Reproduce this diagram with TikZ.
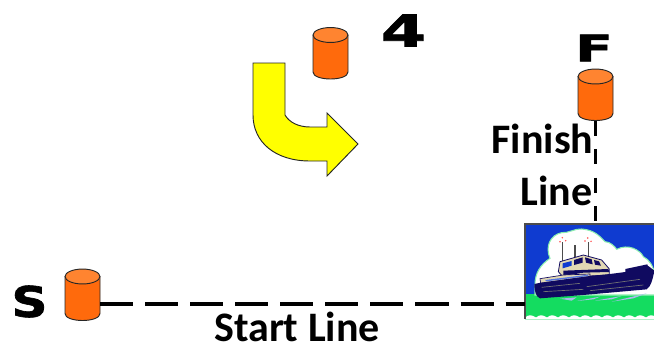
\documentclass[tikz,border=0pt]{standalone}
\usepackage{fontspec}
\setmainfont{Carlito}
\newfontfamily\heavyfont[BoldFont={DejaVu Sans Bold},BoldFeatures={FakeBold=1.5}]{DejaVu Sans}
\definecolor{buoy}{HTML}{FF6A0C}
\definecolor{buoytop}{HTML}{FF8430}
\definecolor{sky}{HTML}{0F3BD0}
\definecolor{sea}{HTML}{14DC60}
\definecolor{hull}{HTML}{100A60}
\definecolor{cabin}{HTML}{E2D8B4}
\definecolor{arrowyellow}{HTML}{FFFF00}
\newcommand{\drawbuoy}[3]{%
 \node[buoybox] (#1) at (#2,#3) {};
 \begin{scope}[shift={(#2,#3)}]
  \filldraw[buoyline,fill=buoy] (-17.5,-18) -- (-17.5,19) .. controls (-17.5,23.5) and (-9,26) .. (0,26)
     .. controls (9,26) and (17.5,23.5) .. (17.5,19) -- (17.5,-18) -- cycle;
  \filldraw[buoyline,fill=buoytop] (0,-18) ellipse [x radius=13.1pt,y radius=5.6pt];
 \end{scope}}
\tikzset{
 x=0.75pt,y=-0.75pt,
 buoyline/.style={draw=black!85,line width=0.7pt},
 buoybox/.style={draw=none,minimum width=26.2pt,minimum height=38.5pt,inner sep=0pt,outer sep=0pt},
 heavy/.style={font=\heavyfont\bfseries,inner sep=0pt,text=black},
 caption/.style={font=\fontsize{31.5pt}{31.5pt}\selectfont\bfseries,inner sep=0pt,text=black,anchor=base},
 dashh/.style={line width=3pt,dash pattern=on 24.8pt off 9pt},
 dashv/.style={line width=2.4pt,dash pattern=on 11.4pt off 9.8pt},
 turnarrow/.style={draw=black!85,line width=0.7pt,fill=arrowyellow},
 boatframe/.style={draw=none,fill=sky,minimum width=96.75pt,minimum height=71.25pt,inner sep=0pt,outer sep=0pt},
}
\begin{document}
\begin{tikzpicture}
\useasboundingbox (0,0) rectangle (654,347);
% boat picture
\node[boatframe] (boat) at (589.5,271.5) {};
\begin{scope}
 \clip (525,224) rectangle (654,319.5);
 \fill[sea] (525,294) rectangle (654,319.5);
 \fill[white] (525,319.5) -- (525,317.5) \foreach \k in {0,...,11} { .. controls (529+\k*11,314.5) and (531+\k*11,314.5) .. (536+\k*11,317.5)} -- (654,319.5) -- cycle;
 \begin{scope}[shift={(500,200)},x=0.25pt,y=-0.25pt]
  \filldraw[fill=white,draw=sea!50!white,line width=0.8pt] (105,255) .. controls (105,220) and (120,195) .. (150,175)
    .. controls (135,140) and (150,105) .. (185,98) .. controls (205,100) and (225,85) .. (245,87)
    .. controls (285,90) and (300,110) .. (315,125) .. controls (330,125) and (345,140) .. (350,148)
    .. controls (385,130) and (420,150) .. (430,170) .. controls (450,180) and (460,200) .. (465,225)
    -- (465,285) -- (105,285) -- cycle;
  % funnels
  \draw[black!70,line width=0.8pt] (188,190) -- (188,125) (225,170) -- (225,135) (265,172) -- (265,125);
  \fill[red!70] (180,125) circle (2.5) (187,113) circle (2.5) (197,122) circle (2.5) (255,123) circle (2.5) (263,114) circle (2.5) (273,124) circle (2.5);
  % cabin
  \filldraw[fill=cabin,draw=hull,line width=0.6pt] (180,185) -- (250,165) -- (305,180) -- (328,207) -- (328,225) -- (190,232) -- (175,215) -- cycle;
  \fill[sky] (188,190) -- (215,183) -- (215,197) -- (188,205) -- cycle;
  \fill[hull] (222,180) -- (248,172) -- (248,188) -- (222,195) -- cycle;
  \fill[hull] (255,172) -- (275,178) -- (278,193) -- (258,188) -- cycle;
  \fill[hull] (282,180) -- (297,184) -- (303,197) -- (285,194) -- cycle;
  \fill[hull] (190,212) -- (325,207) -- (328,216) -- (250,218) -- (190,228) -- cycle;
  % deck
  \filldraw[fill=cabin,draw=hull,line width=0.5pt] (120,236) -- (190,225) -- (270,222) -- (270,230) -- (122,250) -- cycle;
  \fill[sky!70!white] (135,240) -- (265,224) -- (265,228) -- (140,244) -- cycle;
  % stern box
  \fill[hull] (376,207) -- (442,193) -- (446,205) -- (376,220) -- cycle;
  % hull
  \fill[hull] (103,252) -- (122,248) -- (270,228) -- (330,222) -- (376,216) -- (445,198) -- (463,212)
    .. controls (458,240) and (452,260) .. (440,268) -- (250,285) -- (120,295) .. controls (108,290) and (103,275) .. (103,252) -- cycle;
  \draw[black!55,line width=0.5pt] (125,262) -- (240,250) (130,275) -- (250,268) (260,260) -- (420,238) (270,272) -- (430,255);
  % wake
  \fill[sky!35!white] (180,296) -- (230,292) -- (215,302) -- cycle (230,303) -- (300,290) -- (280,298) -- cycle (285,302) -- (365,288) -- (335,298) -- cycle (335,305) -- (440,280) -- (400,295) -- cycle;
 \end{scope}
\end{scope}
\draw[black!70,line width=0.9pt] (boat.south west) -- (boat.north west) -- (boat.north east);
% connectors
\drawbuoy{startbuoy}{82.5}{294.5}
\drawbuoy{turnbuoy}{330.5}{53}
\drawbuoy{finishbuoy}{595.5}{94.5}
\coordinate (startfree) at (startbuoy.east |- 0,304);
\draw[dashh] (100,304) -- (boat.west |- startfree);
\coordinate (finishfree) at (595.5,121);
\draw[dashv] (finishfree) -- (boat.north -| finishfree);
% arrow
\filldraw[turnarrow] (253,63) -- (285,63) -- (285,115) .. controls (289,122) and (298,127) .. (310,127)
  -- (327,127) -- (327,113) -- (358,144) -- (327,176) -- (327,161) -- (310,161)
  .. controls (275,161) and (253,142) .. (253,115) -- cycle;
% labels
\node[heavy] (labS) at (29.5,301.5) {\resizebox{27pt}{23.5pt}{S}};
\node[heavy] (lab4) at (403.5,30.5) {\resizebox{34pt}{24pt}{4}};
\node[heavy] (labF) at (594,48) {\resizebox{28pt}{20pt}{F}};
\node[caption] (labfinish) at (542.5,153.5) {Finish};
\node[caption] (labline) at (556.5,205) {Line};
\node[caption] (labstart) at (297,341.5) {Start Line};
\end{tikzpicture}
\end{document}
